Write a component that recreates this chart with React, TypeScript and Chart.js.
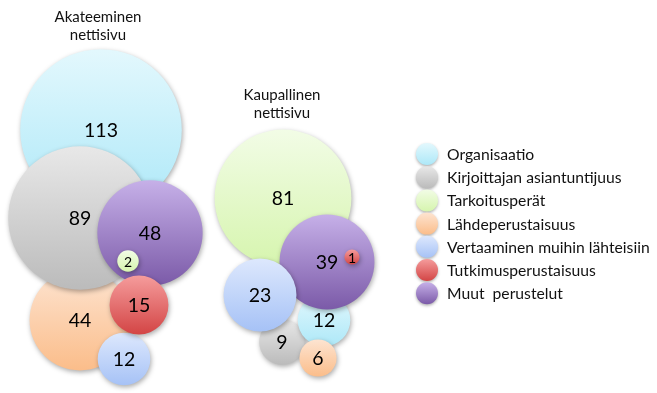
import React, { useEffect, useRef } from "react";
import { Chart, registerables } from "chart.js";

Chart.register(...registerables);

const categories = [
  "Organisaatio",
  "Kirjoittajan asiantuntijuus",
  "Tarkoitusperät",
  "Lähdeperustaisuus",
  "Vertaaminen muihin lähteisiin",
  "Tutkimusperustaisuus",
  "Muut  perustelut",
];
const groupTitles = [
  ["Akateeminen", "nettisivu"],
  ["Kaupallinen", "nettisivu"],
];

const academicValues = [113, 89, 2, 44, 12, 15, 48];
const academicX = [10.1, 8.0, 12.8, 8.0, 12.4, 13.9, 15.0];
const academicY = [13.0, 21.8, 26.1, 32.0, 35.9, 30.5, 23.3];

const commercialValues = [12, 9, 81, 6, 23, 1, 39];
const commercialX = [32.4, 28.2, 28.3, 31.8, 26.0, 35.2, 32.7];
const commercialY = [32.0, 34.2, 19.8, 35.8, 29.5, 25.7, 26.2];

const academicDrawOrder = [0, 3, 1, 6, 2, 4, 5];
const commercialDrawOrder = [2, 1, 0, 6, 5, 4, 3];

const gradTop = ["#e3f8fd", "#e8e8e8", "#f2fce6", "#fde4d1", "#dde8fd", "#f59c9c", "#c6b0e8"];
const gradBottom = ["#ade8f8", "#bbbbbb", "#d6f5ae", "#fbbd8a", "#a6c2f6", "#d34545", "#7b5aa8"];

const W = 657;
const H = 393;
const UNIT = 10; // pixels per data unit
const FONT = "Lato, 'Open Sans', sans-serif";

function radiusFor(v: number) {
  return 7.6 * Math.sqrt(v);
}

function buildPoints(values: number[], xs: number[], ys: number[], order: number[]) {
  return order.map((i) => ({ x: xs[i], y: ys[i], r: radiusFor(values[i]), cat: i, v: values[i] }));
}

function makeGradient(ctx: CanvasRenderingContext2D, cy: number, r: number, cat: number) {
  const g = ctx.createLinearGradient(0, cy - r, 0, cy + r);
  g.addColorStop(0, gradTop[cat]);
  g.addColorStop(1, gradBottom[cat]);
  return g;
}

const overlayPlugin = {
  id: "overlay",
  beforeDatasetsDraw(chart: any) {
    const ctx = chart.ctx;
    chart.data.datasets.forEach((ds: any, di: number) => {
      const meta = chart.getDatasetMeta(di);
      meta.data.forEach((el: any, i: number) => {
        const p = ds.data[i];
        if (el.options && Number.isFinite(el.y)) {
          try {
            el.options.backgroundColor = makeGradient(ctx, el.y, p.r, p.cat);
          } catch (e) {}
        }
      });
    });
    ctx.save();
    ctx.shadowColor = "rgba(0,0,0,0.33)";
    ctx.shadowBlur = 5;
    ctx.shadowOffsetX = 1;
    ctx.shadowOffsetY = 2;
  },
  afterDatasetsDraw(chart: any) {
    const ctx = chart.ctx;
    ctx.restore();
    ctx.save();
    ctx.fillStyle = "#000";
    ctx.textAlign = "center";
    ctx.textBaseline = "middle";
    chart.data.datasets.forEach((ds: any, di: number) => {
      const meta = chart.getDatasetMeta(di);
      meta.data.forEach((el: any, i: number) => {
        const p = ds.data[i];
        const small = p.v <= 2;
        ctx.font = (small ? "14px " : "19.5px ") + FONT;
        ctx.fillText(String(p.v), el.x, el.y + 1);
      });
    });
    // group titles
    ctx.font = "15px " + FONT;
    ctx.fillStyle = "#111";
    const titlePos = [
      [98, 17],
      [282, 95],
    ];
    groupTitles.forEach((lines, gi) => {
      lines.forEach((t, li) => {
        ctx.fillText(t, titlePos[gi][0], titlePos[gi][1] + li * 18.5);
      });
    });
    // legend
    const lx = 427;
    const ly0 = 154;
    const step = 23.2;
    const lr = 11;
    categories.forEach((c, i) => {
      const cy = ly0 + i * step;
      ctx.save();
      ctx.shadowColor = "rgba(0,0,0,0.3)";
      ctx.shadowBlur = 3;
      ctx.shadowOffsetY = 1.5;
      ctx.beginPath();
      ctx.arc(lx, cy, lr, 0, Math.PI * 2);
      ctx.fillStyle = makeGradient(ctx, cy, lr, i);
      ctx.fill();
      ctx.restore();
      ctx.textAlign = "left";
      ctx.fillStyle = "#111";
      ctx.font = "15.7px " + FONT;
      ctx.fillText(c, 447, cy + 1);
    });
    ctx.restore();
  },
};

export default function App() {
  const ref = useRef<HTMLCanvasElement | null>(null);
  useEffect(() => {
    if (!ref.current) return;
    const bg = (c: any) => {
      const raw = c.raw;
      if (!raw || raw.cat === undefined) return "#cccccc";
      return gradBottom[raw.cat];
    };
    const chart = new Chart(ref.current, {
      type: "bubble",
      data: {
        datasets: [
          {
            label: "Akateeminen nettisivu",
            data: buildPoints(academicValues, academicX, academicY, academicDrawOrder) as any,
            backgroundColor: bg,
            borderWidth: 0,
            clip: false as any,
          },
          {
            label: "Kaupallinen nettisivu",
            data: buildPoints(commercialValues, commercialX, commercialY, commercialDrawOrder) as any,
            backgroundColor: bg,
            borderWidth: 0,
            clip: false as any,
          },
        ],
      },
      options: {
        responsive: false,
        animation: false,
        devicePixelRatio: 1,
        events: [],
        layout: { padding: 0, autoPadding: false } as any,
        scales: {
          x: { type: "linear", min: 0, max: W / UNIT, display: false },
          y: { type: "linear", min: 0, max: H / UNIT, reverse: true, display: false },
        },
        plugins: {
          legend: { display: false },
          tooltip: { enabled: false },
        },
      },
      plugins: [overlayPlugin],
    });
    return () => chart.destroy();
  }, []);
  return (
    <div style={{ position: "absolute", left: 0, top: 0, width: W, height: H, background: "#fff" }}>
      <canvas ref={ref} width={W} height={H} style={{ display: "block" }} />
    </div>
  );
}
